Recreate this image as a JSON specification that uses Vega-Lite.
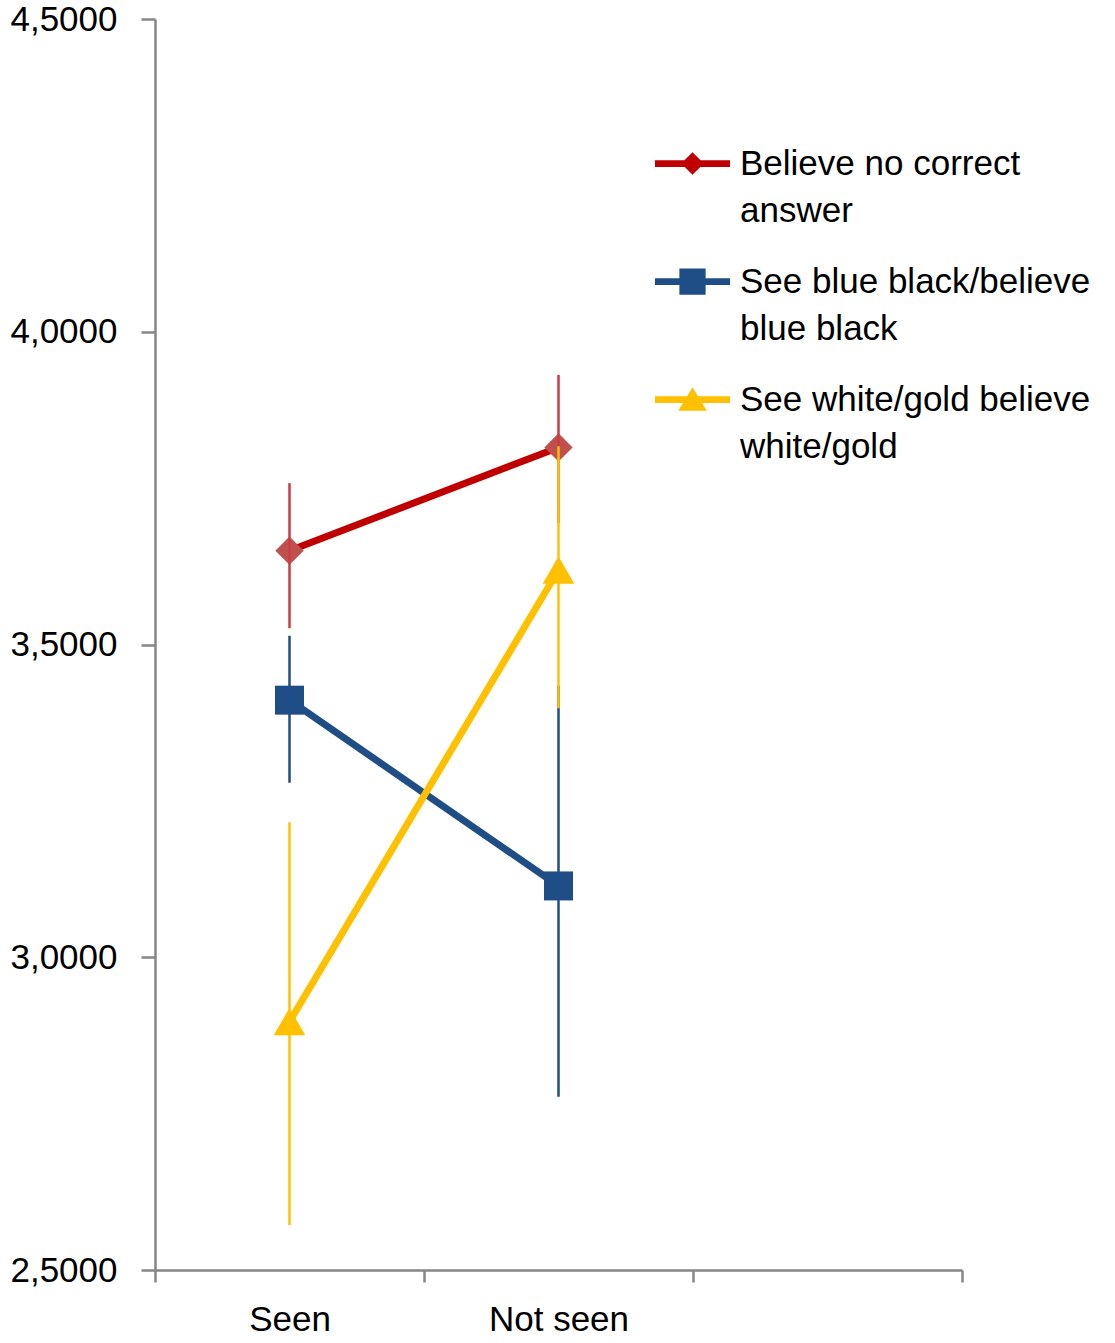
{
  "$schema": "https://vega.github.io/schema/vega-lite/v6.json",
  "width": 807,
  "height": 1251,
  "autosize": {"type": "none"},
  "padding": {"left": 155, "top": 19, "right": 153, "bottom": 73},
  "background": "white",
  "config": {"view": {"stroke": null}, "font": "Liberation Sans"},
  "data": {"values": [
    {"condition": "Seen", "series": "Believe no correct answer", "mean": 3.650, "lo": 3.526, "hi": 3.758},
    {"condition": "Not seen", "series": "Believe no correct answer", "mean": 3.815, "lo": 3.694, "hi": 3.931},
    {"condition": "Seen", "series": "See blue black/believe blue black", "mean": 3.411, "lo": 3.279, "hi": 3.514},
    {"condition": "Not seen", "series": "See blue black/believe blue black", "mean": 3.114, "lo": 2.777, "hi": 3.434},
    {"condition": "Seen", "series": "See white/gold believe white/gold", "mean": 2.897, "lo": 2.572, "hi": 3.216},
    {"condition": "Not seen", "series": "See white/gold believe white/gold", "mean": 3.619, "lo": 3.398, "hi": 3.817}
  ]},
  "encoding": {
    "x": {
      "field": "condition",
      "type": "nominal",
      "scale": {"type": "band", "domain": ["Seen", "Not seen", "none"], "paddingInner": 0, "paddingOuter": 0},
      "axis": {
        "title": null,
        "labelAngle": 0,
        "tickBand": "extent",
        "domainColor": "#868686",
        "domainWidth": 2.5,
        "tickColor": "#868686",
        "tickWidth": 2.5,
        "tickSize": 12,
        "labelFontSize": 35,
        "labelFont": "Liberation Sans",
        "labelColor": "#000000",
        "labelPadding": 20,
        "grid": false,
        "labelExpr": "datum.value == 'none' ? '' : datum.value"
      }
    }
  },
  "layer": [
    {
      "mark": {"type": "line", "strokeWidth": 7, "strokeCap": "round", "strokeJoin": "round"},
      "encoding": {
        "y": {
          "field": "mean",
          "type": "quantitative",
          "scale": {"domain": [2.5, 4.5], "zero": false, "nice": false},
          "axis": {
            "title": null,
            "values": [2.5, 3, 3.5, 4, 4.5],
            "labelExpr": "replace(format(datum.value, '.4f'), '.', ',')",
            "domainColor": "#868686",
            "domainWidth": 2.5,
            "tickColor": "#868686",
            "tickWidth": 2.5,
            "tickSize": 14,
            "labelFontSize": 35,
            "labelFont": "Liberation Sans",
            "labelColor": "#000000",
            "labelPadding": 24,
            "grid": false
          }
        },
        "color": {
          "field": "series",
          "type": "nominal",
          "scale": {
            "domain": ["Believe no correct answer", "See blue black/believe blue black", "See white/gold believe white/gold"],
            "range": ["#C00000", "#1F4E87", "#FFC000"]
          },
          "legend": {
            "title": null,
            "orient": "none",
            "legendX": 500,
            "legendY": 107,
            "padding": 0,
            "symbolSize": 5625,
            "symbolStrokeWidth": 0,
            "symbolOpacity": 1,
            "labelFontSize": 35,
            "labelFont": "Liberation Sans",
            "labelColor": "#000000",
            "labelLimit": 800,
            "labelOffset": 10,
            "rowPadding": 15,
            "labelBaseline": "middle",
            "labelExpr": "datum.value == 'Believe no correct answer' ? ['Believe no correct', 'answer'] : datum.value == 'See blue black/believe blue black' ? ['See blue black/believe', 'blue black'] : ['See white/gold believe', 'white/gold']",
            "encode": {
              "symbols": {"update": {
                "shape": {"signal": "datum.value == 'Believe no correct answer' ? 'M-1,-0.09H1V0.09H-1Z M0,-0.3L0.3,0L0,0.3L-0.3,0Z' : datum.value == 'See blue black/believe blue black' ? 'M-1,-0.09H1V0.09H-1Z M-0.35,-0.35H0.35V0.35H-0.35Z' : 'M-1,-0.09H1V0.09H-1Z M0,-0.33L0.38,0.3H-0.38Z'"},
                "fill": {"signal": "datum.value == 'Believe no correct answer' ? '#C00000' : datum.value == 'See blue black/believe blue black' ? '#1F4E87' : '#FFC000'"},
                "stroke": {"value": "transparent"},
                "strokeWidth": {"value": 0},
                "opacity": {"value": 1}
              }},
              "labels": {"update": {"lineHeight": {"value": 47}}}
            }
          }
        }
      }
    },
    {
      "transform": [{"filter": "datum.series === 'Believe no correct answer'"}],
      "mark": {"type": "point", "shape": "diamond", "filled": true, "opacity": 1, "size": 800, "color": "#C0504D"},
      "encoding": {
        "y": {"field": "mean", "type": "quantitative"}
      }
    },
    {
      "transform": [{"filter": "datum.series === 'See blue black/believe blue black'"}],
      "mark": {"type": "point", "shape": "square", "filled": true, "opacity": 1, "size": 841, "color": "#1F4E87"},
      "encoding": {
        "y": {"field": "mean", "type": "quantitative"}
      }
    },
    {
      "transform": [{"filter": "datum.series === 'See white/gold believe white/gold'"}],
      "mark": {"type": "point", "shape": "triangle-up", "filled": true, "opacity": 1, "size": 1000, "color": "#FFC000"},
      "encoding": {
        "y": {"field": "mean", "type": "quantitative"}
      }
    },
    {
      "mark": {"type": "rule", "strokeWidth": 2.5},
      "encoding": {
        "y": {"field": "lo", "type": "quantitative"},
        "y2": {"field": "hi"},
        "color": {
          "condition": {"test": "datum.series === 'Believe no correct answer'", "value": "#CC3B44"},
          "field": "series",
          "type": "nominal"
        }
      }
    }
  ]
}
